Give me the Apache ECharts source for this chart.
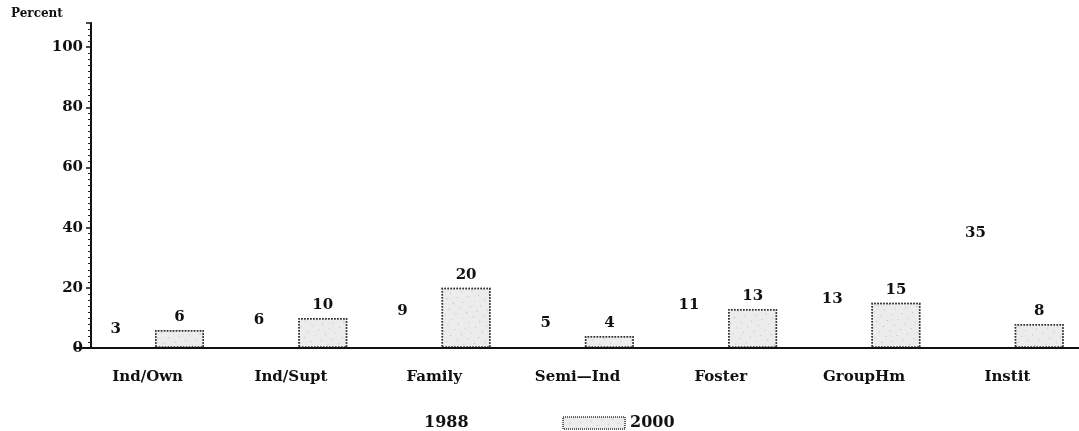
<!DOCTYPE html>
<html>
<head>
<meta charset="utf-8">
<script src="https://cdn.jsdelivr.net/npm/echarts@6/dist/echarts.min.js"></script>
<style>html,body{margin:0;padding:0;background:#fff;}#c{width:1079px;height:431px;}</style>
</head>
<body>
<div id="c"></div>
<script>
var categories = ['Ind/Own', 'Ind/Supt', 'Family', 'Semi\u2014Ind', 'Foster', 'GroupHm', 'Instit'];
var values1988 = [3, 6, 9, 5, 11, 13, 35];
var values2000 = [6, 10, 20, 4, 13, 15, 8];
var yTicks = [0, 20, 40, 60, 80, 100];

var FONT = 'DejaVu Serif';
var chart = echarts.init(document.getElementById('c'), null, {renderer: 'canvas'});
chart.setOption({
  backgroundColor: '#fff',
  animation: false,
  title: {
    text: 'Percent', left: 6, top: 3,
    textStyle: {fontFamily: FONT, fontWeight: 'bold', fontSize: 12, color: '#111'}
  },
  legend: {
    left: 352, top: 410, itemWidth: 62, itemHeight: 12, itemGap: 94, icon: 'rect',
    textStyle: {fontFamily: FONT, fontWeight: 'bold', fontSize: 16, color: '#111'},
    data: [
      {name: '1988', itemStyle: {color: 'rgba(0,0,0,0)', borderWidth: 0}},
      {name: '2000', itemStyle: {borderWidth: 1, borderType: 'dotted', borderColor: '#333'}}
    ]
  },
  grid: {left: 76, right: -19, top: 23, bottom: 83, containLabel: false},
  xAxis: {
    type: 'category', data: categories, z: 5,
    axisLine: {lineStyle: {color: '#111', width: 2}},
    axisTick: {show: false},
    axisLabel: {margin: 22, fontFamily: FONT, fontWeight: 'bold', fontSize: 15, color: '#111'}
  },
  yAxis: {
    type: 'value', min: 0, max: 108, interval: 20, offset: -15,
    axisLine: {show: true, lineStyle: {color: '#111', width: 2}},
    axisTick: {show: true, length: 5, lineStyle: {color: '#111', width: 1.5}},
    minorTick: {show: true, splitNumber: 10, length: 3, lineStyle: {color: '#222'}},
    splitLine: {show: false},
    axisLabel: {
      margin: 8, fontFamily: FONT, fontWeight: 'bold', fontSize: 15, color: '#111',
      formatter: function (v) { return yTicks.indexOf(v) >= 0 ? String(v) : ''; }
    }
  },
  series: [
    {
      name: '1988', type: 'bar', data: values1988, barWidth: 49, barGap: '30%',
      itemStyle: {color: 'rgba(0,0,0,0)', borderWidth: 0},
      label: {show: true, position: 'top', distance: 2, fontFamily: FONT, fontWeight: 'bold', fontSize: 15, color: '#111'}
    },
    {
      name: '2000', type: 'bar', data: values2000, barWidth: 49,
      itemStyle: {
        color: '#ececec', borderColor: '#333', borderWidth: 1.5, borderType: 'dotted',
        decal: {symbol: 'circle', symbolSize: 0.35, dashArrayX: [[3, 5]], dashArrayY: [3, 4], rotation: 0.6, color: 'rgba(60,60,60,0.35)'}
      },
      label: {show: true, position: 'top', distance: 5, fontFamily: FONT, fontWeight: 'bold', fontSize: 15, color: '#111'}
    }
  ]
});
</script>
</body>
</html>
